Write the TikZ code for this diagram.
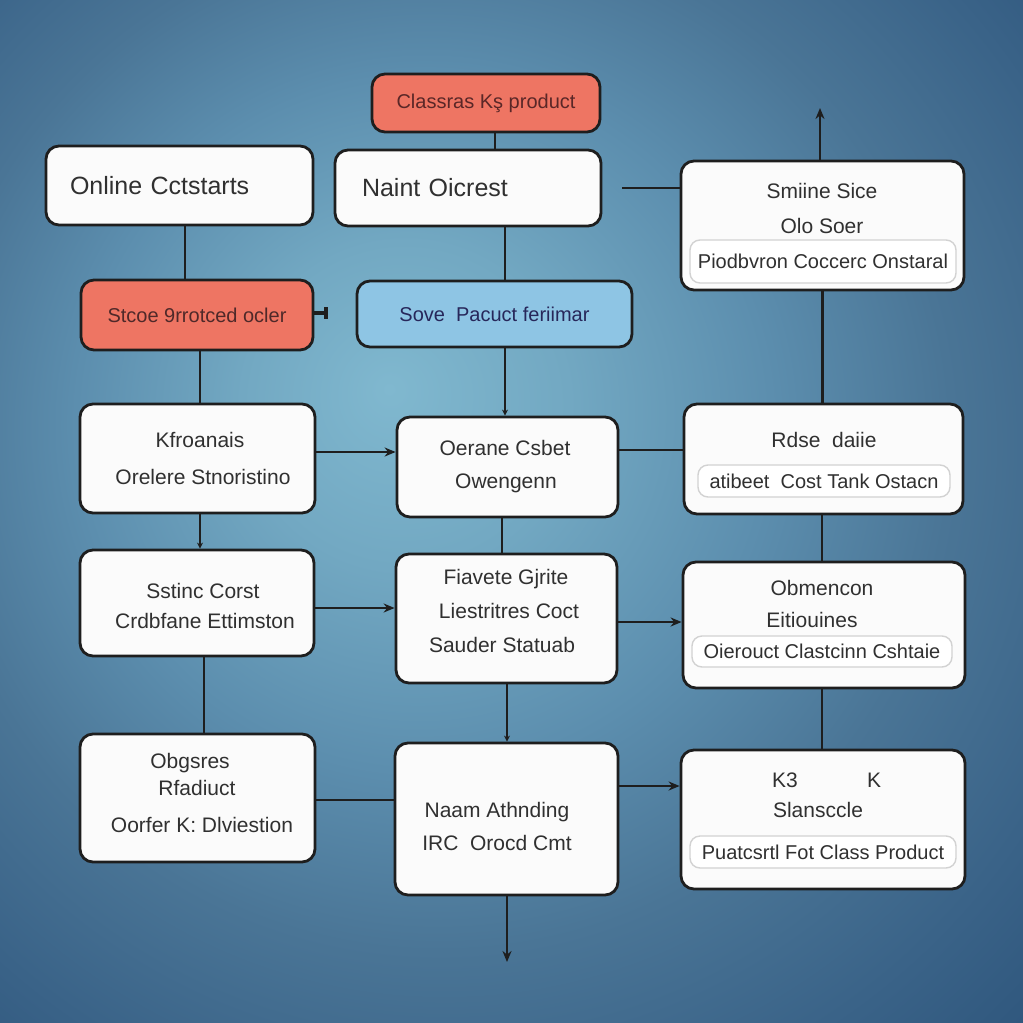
\documentclass[tikz,border=0pt]{standalone}
\usepackage{fontspec}
\setmainfont{Liberation Sans}
\usetikzlibrary{arrows.meta}
\definecolor{bga}{HTML}{80B8CF}
\definecolor{bgb}{HTML}{72A8C2}
\definecolor{bgc}{HTML}{5C8EAE}
\definecolor{bgd}{HTML}{4A7596}
\definecolor{bge}{HTML}{3A6388}
\definecolor{bgf}{HTML}{224870}
\definecolor{redbox}{HTML}{EE7563}
\definecolor{bluebox}{HTML}{8EC5E4}
\definecolor{ink}{HTML}{303030}
\definecolor{edge}{HTML}{1E1E1E}
\pgfdeclareradialshading{bgs}{\pgfpoint{-6bp}{6bp}}{color(0bp)=(bga); color(8bp)=(bgb); color(17bp)=(bgc); color(25bp)=(bgd); color(33bp)=(bge); color(46bp)=(bgf); color(60bp)=(bgf)}
\tikzset{
  box/.style={draw=edge, line width=2.8pt, rounded corners=13pt, fill=white!97!gray, text=ink, inner sep=0pt},
  inbox/.style={draw=gray!35, line width=1.4pt, rounded corners=10pt, fill=white, text=ink, inner sep=0pt},
  lbl/.style={text=ink, inner sep=0pt, font=\fontsize{21}{23}\selectfont},
  conn/.style={draw=edge, line width=2.8pt},
  arr/.style={conn, -{Stealth[length=11pt,width=9pt]}},
  sarr/.style={conn, -{Stealth[length=6pt,width=6pt]}},
  bigf/.style={font=\fontsize{25}{27}\selectfont},
  midf/.style={font=\fontsize{20}{22}\selectfont},
}
\begin{document}
\begin{tikzpicture}[x=1pt,y=-1pt]
\useasboundingbox (0,0) rectangle (1023,1023);
\shade[shading=bgs] (0,0) rectangle (1023,1023);

% top row
\node[box, fill=redbox, text=ink!80!red, minimum width=228pt, minimum height=58pt, midf] (cls) at (486,103) {Classras Kş product};
\node[box, minimum width=267pt, minimum height=79pt, bigf, text width=219pt, inner xsep=24pt, align=left] (onl) at (179.5,185.5) {Online Cctstarts};
\node[box, minimum width=266pt, minimum height=76pt, bigf, text width=212pt, inner xsep=27pt, align=left] (nai) at (468,188) {Naint Oicrest};
\node[box, minimum width=283pt, minimum height=129pt] (smi) at (822.5,225.5) {};
\node[lbl] (smi1) at (822,191) {Smiine Sice};
\node[lbl] (smi2) at (822,226) {Olo Soer};
\node[inbox, minimum width=266pt, minimum height=43pt, midf] (smi3) at (823,261.5) {Piodbvron Coccerc Onstaral};

% second row
\node[box, fill=redbox, text=ink!85!red, minimum width=232pt, minimum height=70pt, midf] (stc) at (197,315) {Stcoe 9rrotced ocler};
\node[box, fill=bluebox, text=ink!80!blue, minimum width=275pt, minimum height=66pt, midf] (sov) at (494.5,314) {Sove\ \ Pacuct feriimar};

% third row
\node[box, minimum width=235pt, minimum height=109pt] (kfr) at (197.5,458.5) {};
\node[lbl] (kfr1) at (200,440) {Kfroanais};
\node[lbl] (kfr2) at (203,477) {Orelere Stnoristino};
\node[box, minimum width=221pt, minimum height=100pt] (oer) at (507.5,467) {};
\node[lbl] (oer1) at (505,448) {Oerane Csbet};
\node[lbl] (oer2) at (506,483) {Owengenn};
\node[box, minimum width=279pt, minimum height=110pt] (rds) at (823.5,459) {};
\node[lbl] (rds1) at (824,440) {Rdse\ \ daiie};
\node[inbox, minimum width=252pt, minimum height=32pt, midf] (rds2) at (824,481) {atibeet\ \ Cost Tank Ostacn};

% fourth row
\node[box, minimum width=234pt, minimum height=106pt] (sst) at (197,603) {};
\node[lbl] (sst1) at (203,591) {Sstinc Corst};
\node[lbl] (sst2) at (205,621) {Crdbfane Ettimston};
\node[box, minimum width=221pt, minimum height=129pt] (fia) at (506.5,618.5) {};
\node[lbl] (fia1) at (506,579) {Fiavete Gjrite};
\node[lbl] (fia2) at (509,611) {Liestritres Coct};
\node[lbl] (fia3) at (502,645) {Sauder Statuab};
\node[box, minimum width=282pt, minimum height=126pt] (obm) at (824,625) {};
\node[lbl] (obm1) at (822,588) {Obmencon};
\node[lbl] (obm2) at (812,620) {Eitiouines};
\node[inbox, minimum width=260pt, minimum height=31pt, midf] (obm3) at (822,651.5) {Oierouct Clastcinn Cshtaie};

% fifth row
\node[box, minimum width=235pt, minimum height=128pt] (obg) at (197.5,798) {};
\node[lbl] (obg1) at (190,763) {Obgsres};
\node[lbl] (obg2) at (197,788) {Rfadiuct};
\node[lbl] (obg3) at (202,825) {Oorfer K: Dlviestion};
\node[box, minimum width=223pt, minimum height=152pt] (naa) at (506.5,819) {};
\node[lbl] (naa1) at (497,812) {Naam Athnding};
\node[lbl] (naa2) at (497,843) {IRC\ \ Orocd Cmt};
\node[box, minimum width=284pt, minimum height=139pt] (kk) at (823,819.5) {};
\node[lbl] (kk1) at (785,780) {K3};
\node[lbl] (kk2) at (874,780) {K};
\node[lbl] (kk3) at (818,810) {Slansccle};
\node[inbox, minimum width=266pt, minimum height=32pt, midf] (kk4) at (823,852) {Puatcsrtl Fot Class Product};

% free ends
\coordinate (stub) at (328,313);
\coordinate (nstart) at (622,188);
\coordinate (uptip) at (820,108);
\coordinate (downtip) at (507,962);

% vertical connectors
\draw[conn] ([xshift=9pt]cls.south) -- ([xshift=9pt]cls.south |- nai.north);
\draw[conn] ([xshift=5.5pt]onl.south) -- ([xshift=5.5pt]onl.south |- stc.north);
\draw[conn] ([xshift=37pt]nai.south) -- ([xshift=37pt]nai.south |- sov.north);
\draw[conn] ([xshift=3pt]stc.south) -- ([xshift=3pt]stc.south |- kfr.north);
\draw[sarr] ([xshift=10.5pt]sov.south) -- ([xshift=10.5pt]sov.south |- oer.north);
\draw[sarr] ([xshift=2.5pt]kfr.south) -- ([xshift=2.5pt]kfr.south |- sst.north);
\draw[conn] ([xshift=-5.5pt]oer.south) -- ([xshift=-5.5pt]oer.south |- fia.north);
\draw[conn] (smi.south) -- (smi.south |- rds.north);
\draw[conn] ([xshift=-1.5pt]rds.south) -- ([xshift=-1.5pt]rds.south |- obm.north);
\draw[conn] ([xshift=7pt]sst.south) -- ([xshift=7pt]sst.south |- obg.north);
\draw[sarr] ([xshift=0.5pt]fia.south) -- ([xshift=0.5pt]fia.south |- naa.north);
\draw[conn] ([xshift=-2pt]obm.south) -- ([xshift=-2pt]obm.south |- kk.north);
\draw[arr] ([xshift=0.5pt]naa.south) -- (downtip);
\draw[arr] (uptip |- smi.north) -- (uptip);

% horizontal connectors
\draw[conn, line width=4pt, -{Bar[width=12pt,line width=4pt]}] (stc.east |- stub) -- (stub);
\draw[conn] (nstart) -- (nstart -| smi.west);
\draw[arr] ([yshift=6.5pt]kfr.east) -- ([yshift=6.5pt]kfr.east -| oer.west);
\draw[conn] ([yshift=17pt]oer.east) -- ([yshift=17pt]oer.east -| rds.west);
\draw[arr] ([yshift=-5pt]sst.east) -- ([yshift=-5pt]sst.east -| fia.west);
\draw[arr] ([yshift=-3.5pt]fia.east) -- ([yshift=-3.5pt]fia.east -| obm.west);
\draw[conn] ([yshift=-2pt]obg.east) -- ([yshift=-2pt]obg.east -| naa.west);
\draw[arr] ([yshift=33pt]naa.east) -- ([yshift=33pt]naa.east -| kk.west);
\end{tikzpicture}
\end{document}
